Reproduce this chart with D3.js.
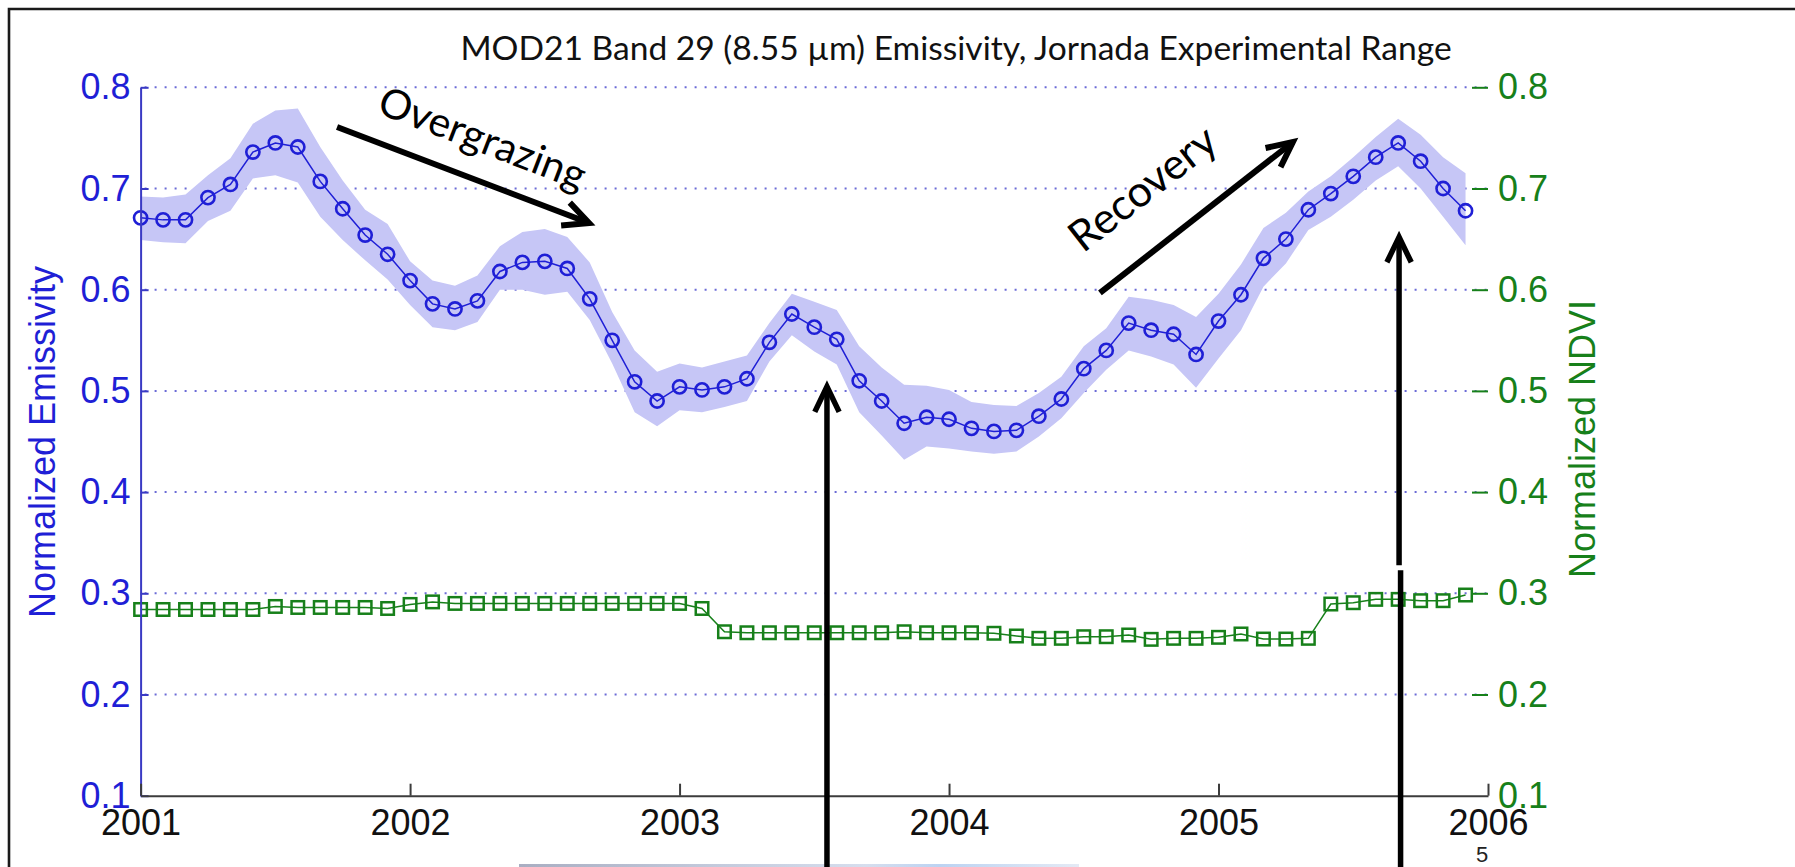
<!DOCTYPE html>
<html>
<head>
<meta charset="utf-8">
<script src="https://cdn.jsdelivr.net/npm/d3@7"></script>
<style>
  html, body { margin: 0; padding: 0; background: #ffffff; }
  svg { display: block; }
</style>
</head>
<body>
<svg id="chart" width="1795" height="867"></svg>
<script>
// ---- data -------------------------------------------------------------
const startYear = 2001;
const yearTicks = [2001, 2002, 2003, 2004, 2005, 2006];
const valueTicks = [0.1, 0.2, 0.3, 0.4, 0.5, 0.6, 0.7, 0.8];

// monthly normalized emissivity (band 29, 8.55 um)
const emissivity = [
  0.671, 0.669, 0.669, 0.691, 0.704, 0.736, 0.745, 0.741, 0.707, 0.680, 0.654, 0.635,
  0.609, 0.586, 0.581, 0.589, 0.618, 0.627, 0.628, 0.621, 0.591, 0.550, 0.509, 0.490,
  0.504, 0.501, 0.504, 0.512, 0.548, 0.576, 0.563, 0.551, 0.510, 0.490, 0.468, 0.474,
  0.472, 0.463, 0.460, 0.461, 0.475, 0.492, 0.522, 0.540, 0.567, 0.560, 0.556, 0.536,
  0.569, 0.595, 0.631, 0.650, 0.679, 0.695, 0.712, 0.731, 0.745, 0.727, 0.700, 0.678
];
// spread of the emissivity (upper / lower envelope)
const emissivityUpper = [
  0.692, 0.691, 0.694, 0.713, 0.730, 0.764, 0.777, 0.779, 0.741, 0.708, 0.679, 0.665,
  0.628, 0.609, 0.604, 0.614, 0.643, 0.657, 0.660, 0.652, 0.627, 0.578, 0.540, 0.519,
  0.527, 0.523, 0.529, 0.535, 0.567, 0.596, 0.588, 0.580, 0.544, 0.523, 0.506, 0.505,
  0.501, 0.489, 0.486, 0.485, 0.498, 0.514, 0.544, 0.562, 0.593, 0.590, 0.585, 0.573,
  0.596, 0.625, 0.661, 0.676, 0.697, 0.712, 0.731, 0.751, 0.769, 0.753, 0.731, 0.715
];
const emissivityLower = [
  0.649, 0.647, 0.646, 0.668, 0.678, 0.710, 0.713, 0.706, 0.672, 0.649, 0.629, 0.610,
  0.585, 0.563, 0.560, 0.568, 0.600, 0.600, 0.595, 0.598, 0.570, 0.527, 0.479, 0.465,
  0.481, 0.479, 0.484, 0.490, 0.529, 0.555, 0.539, 0.526, 0.479, 0.456, 0.432, 0.445,
  0.443, 0.440, 0.438, 0.440, 0.455, 0.473, 0.498, 0.521, 0.540, 0.534, 0.526, 0.503,
  0.532, 0.560, 0.603, 0.626, 0.659, 0.672, 0.689, 0.708, 0.722, 0.700, 0.672, 0.644
];
// monthly normalized NDVI
const ndvi = [
  0.284, 0.284, 0.284, 0.284, 0.284, 0.284, 0.287, 0.286, 0.286, 0.286, 0.286, 0.285,
  0.289, 0.2915, 0.290, 0.290, 0.290, 0.290, 0.290, 0.290, 0.290, 0.290, 0.290, 0.290,
  0.290, 0.285, 0.262, 0.261, 0.261, 0.261, 0.261, 0.261, 0.261, 0.261, 0.262, 0.261,
  0.261, 0.261, 0.2605, 0.2578, 0.2555, 0.2555, 0.2571, 0.2571, 0.2588, 0.2545, 0.2555, 0.2555,
  0.2565, 0.2598, 0.2548, 0.2548, 0.2555, 0.2894, 0.2907, 0.294, 0.294, 0.2927, 0.2927, 0.2983
];
const months = d3.range(emissivity.length).map(i => startYear + i / 12);

// ---- layout -----------------------------------------------------------
const svg = d3.select("#chart");
const W = 1795, H = 867;
const plot = { left: 140.6, right: 1488, top: 87.3, bottom: 795.7 };

const x = d3.scaleLinear().domain([2001, 2006]).range([plot.left, plot.right]);
const y = d3.scaleLinear().domain([0.1, 0.8]).range([plot.bottom, plot.top]);

const BLUE = "#1f1fd6";
const BLUE_AXIS = "#3a3ac4";
const GREEN = "#17801a";
const BAND = "#c6c6f6";

// slide frame
svg.append("path")
  .attr("d", `M9,${H}V9H${W}`)
  .attr("fill", "none").attr("stroke", "#1a1a1a").attr("stroke-width", 2.6);

// strip of the picture below on the slide
const grad = svg.append("defs").append("linearGradient").attr("id", "strip");
[["0%", "#a9aec2"], ["35%", "#c3cadc"], ["62%", "#d6deee"], ["75%", "#bcd3f2"], ["100%", "#e4eaf5"]]
  .forEach(([o, c]) => grad.append("stop").attr("offset", o).attr("stop-color", c));
svg.append("rect").attr("x", 519).attr("y", 864).attr("width", 560).attr("height", 3)
  .attr("fill", "url(#strip)");

// title
svg.append("text")
  .attr("x", 956).attr("y", 60)
  .attr("text-anchor", "middle")
  .attr("font-family", "Lato, 'Open Sans', sans-serif")
  .attr("font-size", 33.6)
  .attr("fill", "#111")
  .text("MOD21 Band 29 (8.55 µm) Emissivity, Jornada Experimental Range");

// dotted grid
svg.append("g").selectAll("line")
  .data(valueTicks.filter(v => v > 0.1))
  .join("line")
  .attr("x1", plot.left + 4).attr("x2", plot.right)
  .attr("y1", d => y(d)).attr("y2", d => y(d))
  .attr("stroke", "#6b6bd6").attr("stroke-width", 2)
  .attr("stroke-dasharray", "2 8");

// emissivity spread band
const area = d3.area()
  .x((d, i) => x(months[i]))
  .y0((d, i) => y(emissivityLower[i]))
  .y1((d, i) => y(emissivityUpper[i]));
svg.append("path").datum(emissivity).attr("d", area).attr("fill", BAND);

// emissivity line + circles
const line = vals => d3.line().x((d, i) => x(months[i])).y(d => y(d))(vals);
svg.append("path").attr("d", line(emissivity))
  .attr("fill", "none").attr("stroke", BLUE).attr("stroke-width", 1.5);
svg.append("g").selectAll("circle").data(emissivity).join("circle")
  .attr("cx", (d, i) => x(months[i])).attr("cy", d => y(d)).attr("r", 6.6)
  .attr("fill", "none").attr("stroke", BLUE).attr("stroke-width", 2.6);

// NDVI line + squares
svg.append("path").attr("d", line(ndvi))
  .attr("fill", "none").attr("stroke", GREEN).attr("stroke-width", 1.5);
const sq = 12.5;
svg.append("g").selectAll("rect").data(ndvi).join("rect")
  .attr("x", (d, i) => x(months[i]) - sq / 2).attr("y", d => y(d) - sq / 2)
  .attr("width", sq).attr("height", sq)
  .attr("fill", "none").attr("stroke", GREEN).attr("stroke-width", 2.5);

// axes
const axisFont = "'Liberation Sans', Arial, Helvetica, sans-serif";

const gLeft = svg.append("g").attr("transform", `translate(${plot.left},0)`)
  .call(d3.axisLeft(y).tickValues(valueTicks).tickFormat(d3.format(".1f"))
    .tickSize(-8).tickSizeOuter(0).tickPadding(10));
gLeft.select(".domain").attr("stroke", BLUE_AXIS).attr("stroke-width", 2);
gLeft.selectAll(".tick line").attr("stroke", BLUE_AXIS).attr("stroke-width", 2);
gLeft.selectAll(".tick text").attr("fill", "#1f1fd6")
  .attr("font-family", axisFont).attr("font-size", 36);

const gRight = svg.append("g").attr("transform", `translate(${plot.right},0)`)
  .call(d3.axisRight(y).tickValues(valueTicks).tickFormat(d3.format(".1f"))
    .tickSize(-16).tickSizeOuter(0).tickPadding(10));
gRight.select(".domain").remove();
gRight.selectAll(".tick line").attr("stroke", GREEN).attr("stroke-width", 2)
  .attr("opacity", d => d === 0.1 ? 0 : 1);
gRight.selectAll(".tick text").attr("fill", GREEN)
  .attr("font-family", axisFont).attr("font-size", 36);

const gBottom = svg.append("g").attr("transform", `translate(0,${plot.bottom})`)
  .call(d3.axisBottom(x).tickValues(yearTicks).tickFormat(d3.format("d"))
    .tickSize(-12).tickSizeOuter(0).tickPadding(14));
gBottom.select(".domain").attr("stroke", "#3c3c3c").attr("stroke-width", 2);
gBottom.selectAll(".tick line").attr("stroke", "#3c3c3c").attr("stroke-width", 2);
gBottom.selectAll(".tick text").attr("fill", "#111")
  .attr("font-family", axisFont).attr("font-size", 36);

// axis titles
svg.append("text")
  .attr("transform", "translate(55,442) rotate(-90)")
  .attr("text-anchor", "middle")
  .attr("font-family", axisFont).attr("font-size", 36)
  .attr("fill", "#1f1fd6")
  .text("Normalized Emissivity");
svg.append("text")
  .attr("transform", "translate(1595,439) rotate(-90)")
  .attr("text-anchor", "middle")
  .attr("font-family", axisFont).attr("font-size", 36)
  .attr("fill", GREEN)
  .text("Normalized NDVI");

// slide number
svg.append("text").attr("x", 1482).attr("y", 862).attr("text-anchor", "middle")
  .attr("font-family", axisFont).attr("font-size", 22).attr("fill", "#222").text("5");

// ---- annotations ------------------------------------------------------
function chevron(x1, y1, x2, y2, len, ang) {
  const a = Math.atan2(y1 - y2, x1 - x2);
  return `M${x2 + len * Math.cos(a + ang)},${y2 + len * Math.sin(a + ang)}` +
         `L${x2},${y2}` +
         `L${x2 + len * Math.cos(a - ang)},${y2 + len * Math.sin(a - ang)}`;
}
function arrow(x1, y1, x2, y2, width) {
  const g = svg.append("g").attr("fill", "none").attr("stroke", "#000")
    .attr("stroke-width", width);
  g.append("line").attr("x1", x1).attr("y1", y1).attr("x2", x2).attr("y2", y2);
  g.append("path").attr("d", chevron(x1, y1, x2, y2, 28, 0.45))
    .attr("stroke-linejoin", "miter");
  return g;
}
const annFont = "Lato, 'Open Sans', sans-serif";

// overgrazing trend
arrow(x(2001.729), y(0.7608), x(2002.664), y(0.6659), 6);
svg.append("text")
  .attr("transform", `translate(${x(2002.25)},${y(0.7365)}) rotate(21)`)
  .attr("text-anchor", "middle")
  .attr("font-family", annFont).attr("font-size", 41).attr("fill", "#000")
  .text("Overgrazing");

// recovery trend
arrow(x(2004.560), y(0.5968), x(2005.276), y(0.7459), 6);
svg.append("text")
  .attr("transform", `translate(${x(2004.752)},${y(0.6886)}) rotate(-38)`)
  .attr("text-anchor", "middle")
  .attr("font-family", annFont).attr("font-size", 43).attr("fill", "#000")
  .text("Recovery");

// pointers from the pictures below
arrow(x(2003.547), H + 2, x(2003.547), y(0.5042), 5.5);
arrow(x(2005.670), y(0.3277), x(2005.670), y(0.652), 5.5);
svg.append("line")
  .attr("x1", x(2005.670) + 1.5).attr("x2", x(2005.670) + 1.5)
  .attr("y1", y(0.3227)).attr("y2", H + 2)
  .attr("stroke", "#000").attr("stroke-width", 5.5);
</script>
</body>
</html>
